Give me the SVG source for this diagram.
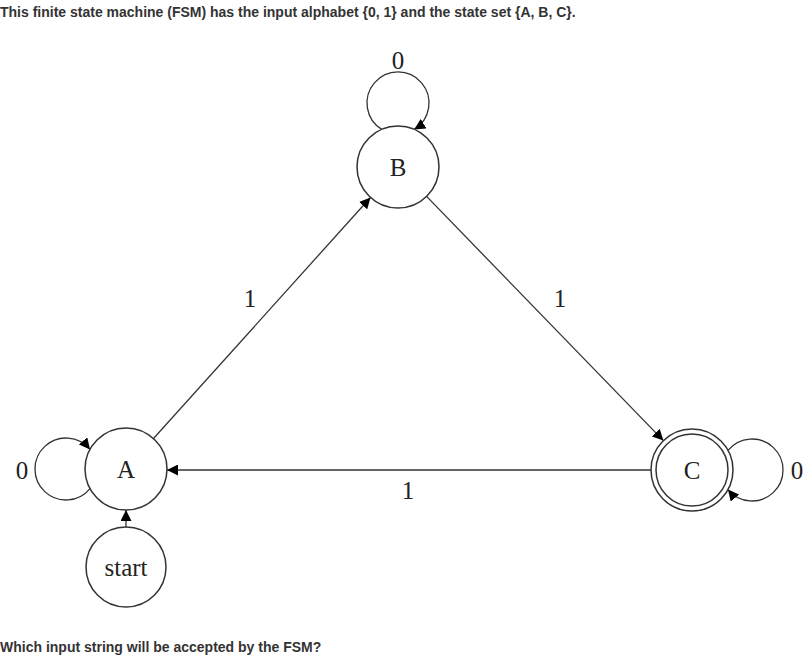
<svg xmlns="http://www.w3.org/2000/svg" width="807" height="658" viewBox="0 0 807 658">
<defs>
<marker id="arr" markerUnits="userSpaceOnUse" markerWidth="11" markerHeight="11" refX="10" refY="5" orient="auto" viewBox="0 0 10 10">
<path d="M0,0 L10,5 L0,10 z" fill="#000"/>
</marker>
<style>
.st{fill:#fff;stroke:#333;stroke-width:1.5}
.lb{font-family:"Liberation Serif","Times New Roman",serif;font-size:25px;fill:#222;text-anchor:middle}
.ed{fill:none;stroke:#333;stroke-width:1.3;marker-end:url(#arr)}
.q{font-family:"Liberation Sans",Arial,sans-serif;font-size:14px;font-weight:bold;fill:#333}
</style>
</defs>
<rect width="807" height="658" fill="#fff"/>
<text class="q" x="0" y="17">This finite state machine (FSM) has the input alphabet {0, 1} and the state set {A, B, C}.</text>
<g id="connectors">
<path class="ed" d="M153.5,438.5 L370.5,197.5"/>
<path class="ed" d="M426.6,196.4 L663.4,440.6"/>
<path class="ed" d="M651,470 L167,470"/>
<path class="ed" d="M126,527 L126,510"/>
<path class="ed" d="M381.8,129.4 A31,31 0 1 1 414.2,129.4"/>
<path class="ed" d="M90,488.6 A31,31 0 1 1 90,449.4"/>
<path class="ed" d="M728,450.4 A31,31 0 1 1 728,489.6"/>
<text class="lb" x="250" y="307">1</text>
<text class="lb" x="560" y="307">1</text>
<text class="lb" x="408" y="499">1</text>
<text class="lb" x="398" y="69">0</text>
<text class="lb" x="22" y="479">0</text>
<text class="lb" x="797" y="479">0</text>
</g>
<g id="node-A">
<circle class="st" cx="126" cy="469" r="41"/>
<text class="lb" x="126" y="478">A</text>
</g>
<g id="node-B">
<circle class="st" cx="398" cy="167" r="41"/>
<text class="lb" x="398" y="176">B</text>
</g>
<g id="node-C">
<circle class="st" cx="692" cy="470" r="41"/>
<circle class="st" cx="692" cy="470" r="36"/>
<text class="lb" x="692" y="479">C</text>
</g>
<g id="node-start">
<circle class="st" cx="126" cy="567" r="40"/>
<text class="lb" x="126" y="576">start</text>
</g>
<text class="q" x="0" y="652">Which input string will be accepted by the FSM?</text>
</svg>
